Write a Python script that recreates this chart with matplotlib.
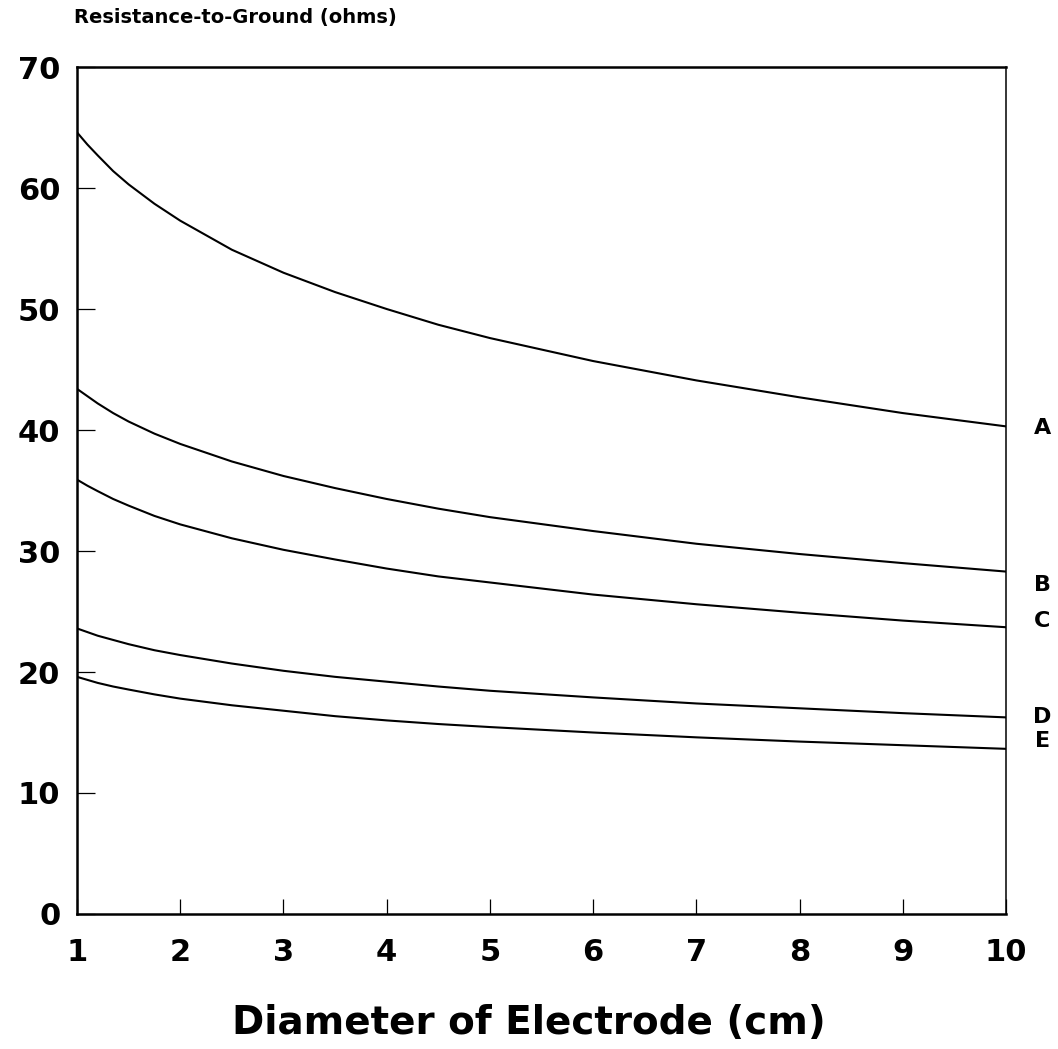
import numpy as np
import matplotlib
matplotlib.use('Agg')
import matplotlib.pyplot as plt

# diameter of electrode (cm)
diam = [1, 1.1, 1.2, 1.35, 1.5, 1.75, 2, 2.5, 3, 3.5, 4, 4.5, 5, 6, 7, 8, 9, 10]

# resistance-to-ground (ohms)
res_A = [64.6, 63.6, 62.7, 61.4, 60.3, 58.7, 57.3, 54.9, 53.0, 51.4, 50.0, 48.7, 47.6, 45.7, 44.1, 42.7, 41.4, 40.3]
res_B = [43.4, 42.8, 42.2, 41.4, 40.7, 39.7, 38.85, 37.4, 36.2, 35.2, 34.3, 33.5, 32.8, 31.65, 30.6, 29.75, 29.0, 28.3]
res_C = [35.9, 35.4, 34.95, 34.3, 33.75, 32.9, 32.2, 31.05, 30.1, 29.3, 28.55, 27.9, 27.4, 26.4, 25.6, 24.9, 24.25, 23.7]
res_D = [23.6, 23.3, 23.0, 22.65, 22.3, 21.8, 21.4, 20.7, 20.1, 19.6, 19.2, 18.8, 18.45, 17.9, 17.4, 17.0, 16.6, 16.25]
res_E = [19.6, 19.35, 19.1, 18.8, 18.55, 18.15, 17.8, 17.25, 16.8, 16.35, 16.0, 15.7, 15.45, 15.0, 14.6, 14.25, 13.95, 13.65]

curve_names = ['A', 'B', 'C', 'D', 'E']
label_y = [40.2, 27.2, 24.2, 16.3, 14.3]

x_ticks = list(range(1, 11))
y_ticks = list(range(0, 71, 10))

plt.rcParams['font.family'] = ['DejaVu Sans']
plt.rcParams['font.weight'] = 'bold'

fig = plt.figure(figsize=(10.58, 10.49), dpi=100)
ax = fig.add_axes([0.0728, 0.1287, 0.8781, 0.8074])

for ys in [res_A, res_B, res_C, res_D, res_E]:
    ax.plot(diam, ys, color='black', lw=1.5, solid_joinstyle='round')

ax.set_xlim(1, 10)
ax.set_ylim(0, 70)
ax.set_xticks(x_ticks)
ax.set_yticks(y_ticks)
ax.tick_params(axis='both', direction='in', width=0.9, colors='black',
               labelsize=22)
ax.tick_params(axis='y', length=13, pad=12)
ax.tick_params(axis='x', length=11, pad=17)
for lbl in ax.get_xticklabels() + ax.get_yticklabels():
    lbl.set_fontweight('bold')

for side in ['left', 'bottom', 'top']:
    ax.spines[side].set_linewidth(1.8)
ax.spines['right'].set_linewidth(1.1)

for name, yl in zip(curve_names, label_y):
    ax.text(1.039, yl, name, transform=ax.get_yaxis_transform(),
            ha='center', va='center', fontsize=16, fontweight='bold')

fig.text(74 / 1058, 1 - 17 / 1049, 'Resistance-to-Ground (ohms)',
         ha='left', va='center', fontsize=14, fontweight='bold')
fig.text(0.5, 1 - 1023 / 1049, 'Diameter of Electrode (cm)',
         ha='center', va='center', fontsize=28, fontweight='bold')

fig.savefig('out.png', dpi=100, facecolor='white')
